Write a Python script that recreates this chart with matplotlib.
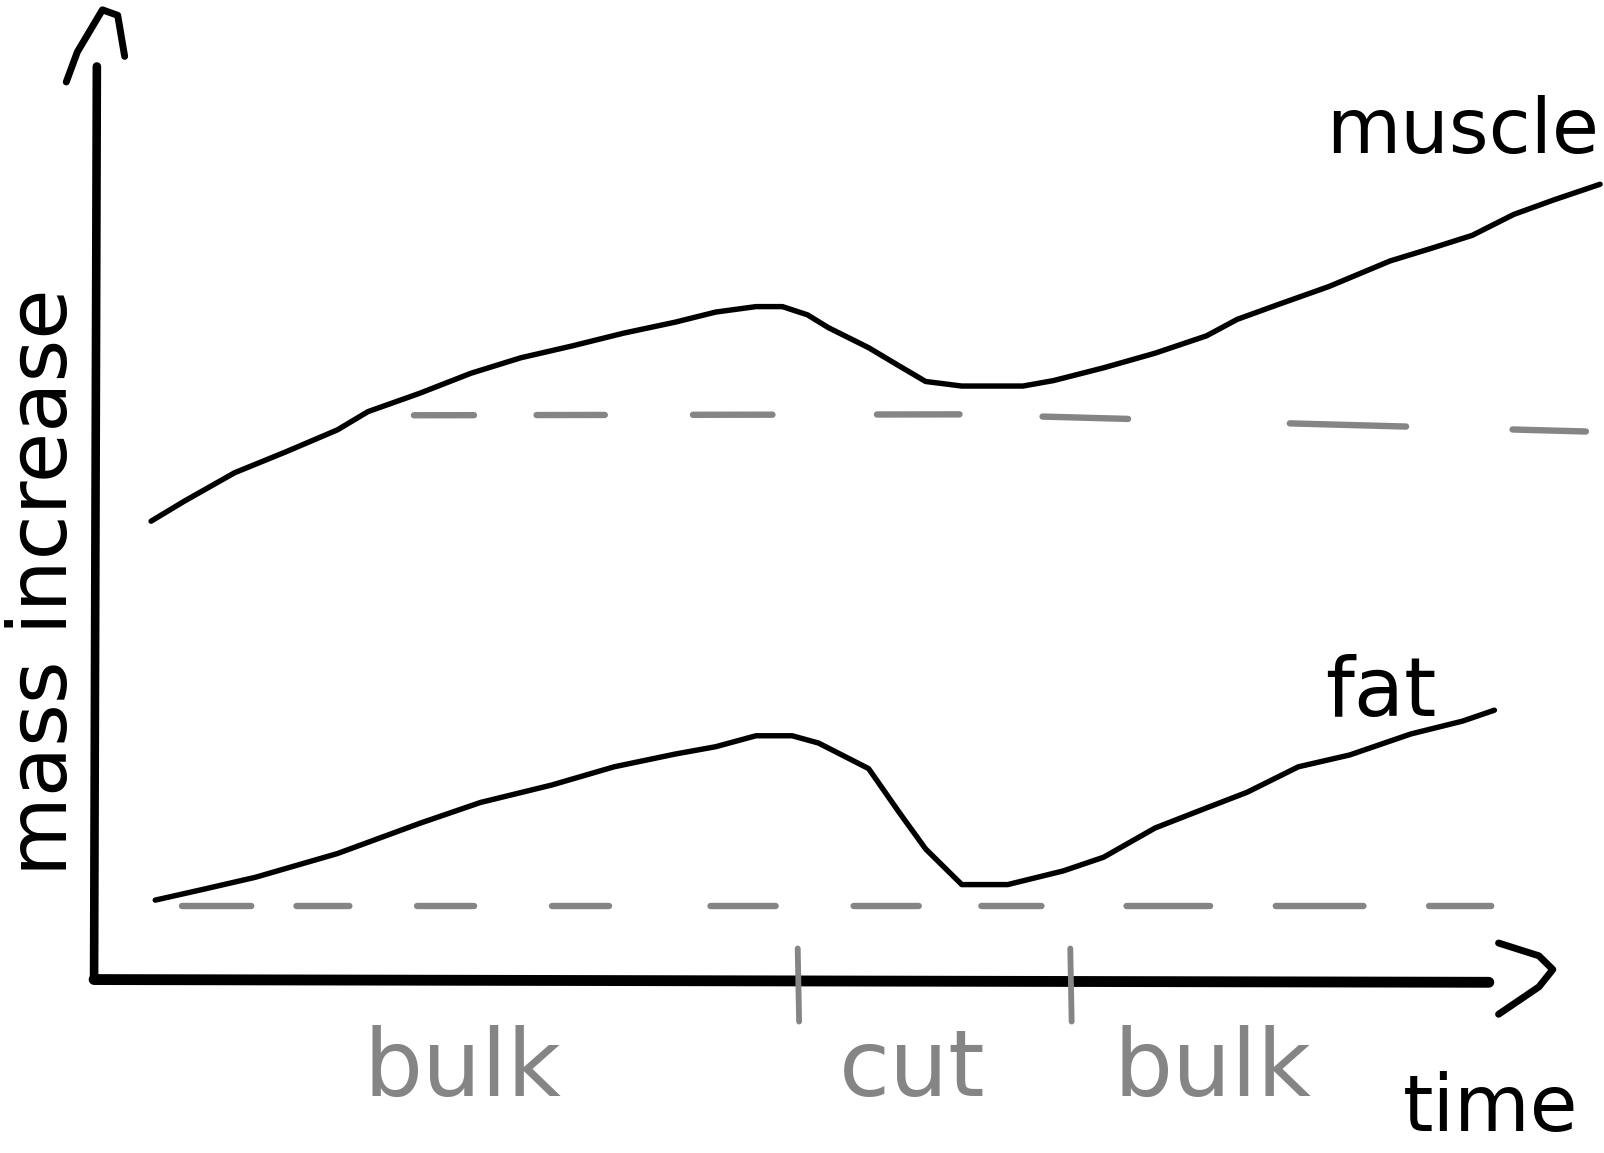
import matplotlib
matplotlib.use("Agg")
import matplotlib.pyplot as plt

# ---- data (time units 0..100, mass units 0..100) ----
muscle_t = [4.1, 6.5, 10.1, 13.8, 17.5, 19.7, 23.4, 27.1, 30.7, 34.4, 38.1, 41.8, 44.7, 47.6,
            49.5, 51.3, 52.8, 55.7, 57.9, 59.8, 62.4, 66.8, 69.0, 72.6, 76.3, 80.0, 82.2, 85.1,
            88.8, 93.2, 96.2, 99.1, 102.1, 105.0, 108.3]
muscle_m = [50.2, 52.4, 55.5, 57.8, 60.2, 62.2, 64.2, 66.4, 68.1, 69.4, 70.8, 72.0, 73.1, 73.7,
            73.7, 72.8, 71.4, 69.2, 67.2, 65.5, 65.0, 65.0, 65.6, 67.0, 68.6, 70.5, 72.3, 73.9,
            75.9, 78.7, 80.1, 81.5, 83.8, 85.4, 87.1]
muscle_base_t = [23.0, 62.4, 107.8]
muscle_base_m = [61.8, 61.9, 60.0]

fat_t = [4.4, 7.9, 11.6, 17.5, 23.4, 27.8, 32.9, 37.4, 41.8, 44.7, 47.6, 50.2, 52.1, 55.7,
         57.9, 59.8, 62.4, 65.7, 69.7, 72.6, 76.3, 80.0, 82.9, 86.6, 90.3, 94.7, 98.4, 100.7]
fat_m = [8.7, 9.9, 11.2, 13.8, 17.1, 19.4, 21.3, 23.3, 24.7, 25.5, 26.7, 26.7, 25.9, 23.1,
         18.3, 14.3, 10.4, 10.4, 11.9, 13.4, 16.6, 18.8, 20.5, 23.3, 24.6, 26.9, 28.3, 29.5]
fat_base_t = [6.3, 101.0]
fat_base_m = [8.1, 8.1]

phase_bounds = [50.6, 70.2]
phase_labels = ["bulk", "cut", "bulk"]
phase_label_t = [26.5, 58.8, 80.4]

plt.rcParams["lines.scale_dashes"] = False

S = 1.0225
fig = plt.figure(figsize=(16.04, 11.53), dpi=100)
ax = fig.add_axes([92 * S / 1604, 1 - 958 * S / 1153, 1360 * S / 1604, 893 * S / 1153])
ax.set_xlim(0, 100)
ax.set_ylim(0, 100)
ax.axis("off")

black = "#000000"
gray = "#858585"


def dash_pts(seq, lw):
    # on/off lengths (px) -> points, compensating for round caps
    out = []
    for i, v in enumerate(seq):
        p = v * 0.736
        out.append(max(p - lw, 1.0) if i % 2 == 0 else p + lw)
    return out


# axes (hand-drawn style)
ax.plot([0, 0.2], [0, 100], color=black, lw=6.2, solid_capstyle="round", clip_on=False)
ax.plot([0, 100.3], [0, -0.3], color=black, lw=7.8, solid_capstyle="round", clip_on=False)
# arrow heads
ax.plot([-2.0, -1.2, 0.6, 1.7, 2.2], [98.3, 101.6, 106.2, 105.6, 101.1], color=black, lw=5,
        solid_capstyle="round", solid_joinstyle="round", clip_on=False)
ax.plot([101.0, 103.9, 104.9, 103.9, 101.0], [4.0, 2.6, 1.1, -0.8, -3.8], color=black, lw=5,
        solid_capstyle="round", solid_joinstyle="round", clip_on=False)

# curves
ax.plot(muscle_t, muscle_m, color=black, lw=3.9, solid_capstyle="round",
        solid_joinstyle="round", clip_on=False)
ax.plot(fat_t, fat_m, color=black, lw=3.9, solid_capstyle="round",
        solid_joinstyle="round", clip_on=False)

# baselines
blw = 4.6
ax.plot(muscle_base_t, muscle_base_m, color=gray, lw=blw,
        dashes=dash_pts([65, 55, 73, 80, 84, 96, 87, 75, 90, 152, 120, 98, 78, 200], blw),
        dash_capstyle="round", clip_on=False)
ax.plot(fat_base_t, fat_base_m, color=gray, lw=blw,
        dashes=dash_pts([74, 38, 58, 60, 62, 70, 62, 93, 70, 70, 70, 55, 65, 77, 88, 58,
                         92, 58, 67, 200], blw),
        dash_capstyle="round", clip_on=False)

# phase ticks
for b in phase_bounds:
    ax.plot([b, b + 0.1], [3.4, -4.6], color=gray, lw=4.2, solid_capstyle="round", clip_on=False)

# phase labels
for lab, t in zip(phase_labels, phase_label_t):
    ax.text(t, -12.7, lab, color=gray, fontsize=67, ha="center", va="baseline",
            family="DejaVu Sans", clip_on=False)

# series labels
ax.text(98.4, 90.5, "muscle", color=black, fontsize=55, ha="center", va="baseline",
        family="DejaVu Sans", clip_on=False)
ax.text(92.5, 28.9, "fat", color=black, fontsize=59, ha="center", va="baseline",
        family="DejaVu Sans", clip_on=False)
ax.text(100.4, -16.6, "time", color=black, fontsize=56, ha="center", va="baseline",
        family="DejaVu Sans", clip_on=False)
fig.text(44 * S / 1604, 1 - 569 * S / 1153, "mass increase", color=black, fontsize=59,
         rotation=90, ha="center", va="center", family="DejaVu Sans")

fig.savefig("out.png", dpi=100)
